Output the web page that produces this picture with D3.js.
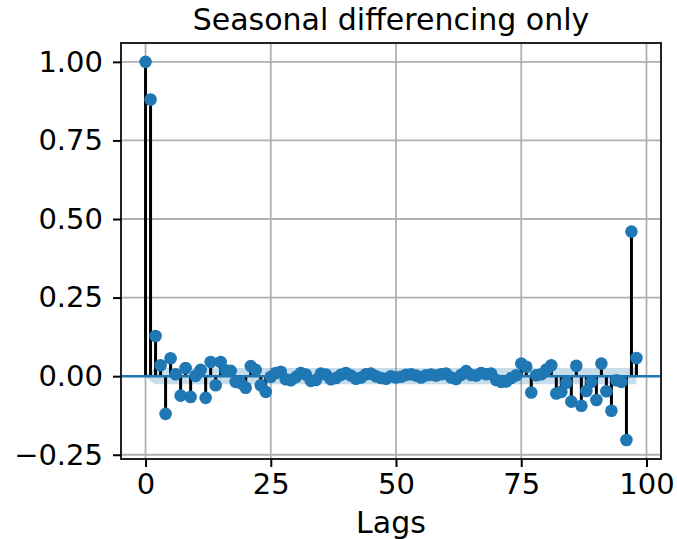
<!DOCTYPE html>
<html>
<head>
<meta charset="utf-8">
<script src="https://cdn.jsdelivr.net/npm/d3@7"></script>
<style>
  body { margin: 0; background: #fff; }
  text { font-family: "DejaVu Sans", sans-serif; fill: #000; }
</style>
</head>
<body>
<div class="chart"></div>
<script>
// autocorrelation values, lag 0 .. 98
var acf = [
  1.000, 0.880, 0.128, 0.035, -0.120, 0.057, 0.006, -0.062, 0.026, -0.066,
  0.001, 0.020, -0.069, 0.045, -0.029, 0.045, 0.019, 0.017, -0.018, -0.022,
  -0.037, 0.032, 0.020, -0.029, -0.050, -0.002, 0.010, 0.014, -0.010, -0.013,
  -0.003, 0.010, 0.005, -0.015, -0.012, 0.008, 0.005, -0.010, -0.006, 0.004,
  0.010, 0.002, -0.008, -0.004, 0.006, 0.008, 0.000, -0.006, -0.008, 0.000,
  -0.004, -0.002, 0.004, 0.006, 0.002, -0.004, 0.003, 0.005, 0.002, 0.006,
  0.008, -0.004, -0.009, 0.004, 0.016, 0.004, 0.002, 0.010, 0.006, 0.008,
  -0.012, -0.018, -0.017, -0.006, 0.003, 0.040, 0.030, -0.052, 0.003, 0.006,
  0.021, 0.035, -0.055, -0.050, -0.021, -0.081, 0.033, -0.094, -0.047, -0.018,
  -0.076, 0.040, -0.048, -0.110, -0.013, -0.018, -0.203, 0.460, 0.058
];
// confidence band half width at a few lags
var bandLags = [0, 1, 2, 98];
var bandHalf = [0, 0.017, 0.026, 0.026];

var xTicks = [0, 25, 50, 75, 100];
var yTicks = [-0.25, 0, 0.25, 0.5, 0.75, 1.0];

var lags = d3.range(acf.length);

var W = 677, H = 539;
var pLeft = 121, pRight = 661, pTop = 43, pBottom = 459;

var svg = d3.select(".chart")
    .append("svg")
    .attr("width", W)
    .attr("height", H)

var x = d3.scaleLinear().domain([-4.9, 102.9]).range([pLeft, pRight]);
var y = d3.scaleLinear().domain([-0.2635, 1.06]).range([pBottom, pTop]);

// grid
svg.append("g")
    .selectAll("line")
    .data(xTicks)
    .enter()
    .append("line")
    .attr("x1", d => x(d)).attr("x2", d => x(d))
    .attr("y1", pTop).attr("y2", pBottom)
    .attr("stroke", "#b0b0b0")
    .attr("stroke-width", 1.8)

svg.append("g")
    .selectAll("line")
    .data(yTicks)
    .enter()
    .append("line")
    .attr("y1", d => y(d)).attr("y2", d => y(d))
    .attr("x1", pLeft).attr("x2", pRight)
    .attr("stroke", "#b0b0b0")
    .attr("stroke-width", 1.8)

// confidence band
var band = bandLags.map(function (l, i) { return [l, bandHalf[i]]; });
svg.append("path")
    .datum(band)
    .attr("d", d3.area()
        .x(d => x(d[0]))
        .y0(d => y(-d[1]))
        .y1(d => y(d[1])))
    .attr("fill", "#1f77b4")
    .attr("fill-opacity", 0.25)

// stems
svg.append("g")
    .selectAll("line")
    .data(lags)
    .enter()
    .append("line")
    .attr("x1", d => x(d)).attr("x2", d => x(d))
    .attr("y1", y(0)).attr("y2", d => y(acf[d]))
    .attr("stroke", "#000")
    .attr("stroke-width", 3)

// zero line
svg.append("line")
    .attr("x1", pLeft).attr("x2", pRight)
    .attr("y1", y(0)).attr("y2", y(0))
    .attr("stroke", "#1f77b4")
    .attr("stroke-width", 2.5)

// markers
svg.append("g")
    .selectAll("circle")
    .data(lags)
    .enter()
    .append("circle")
    .attr("cx", d => x(d))
    .attr("cy", d => y(acf[d]))
    .attr("r", 6.3)
    .attr("fill", "#1f77b4")

// frame
svg.append("rect")
    .attr("x", pLeft).attr("y", pTop)
    .attr("width", pRight - pLeft).attr("height", pBottom - pTop)
    .attr("fill", "none")
    .attr("stroke", "#222")
    .attr("stroke-width", 2)

// axes
var fmtY = function (d) { return d3.format(".2f")(d).replace("-", "\u2212"); };

var xAxis = svg.append("g")
    .attr("transform", "translate(0," + pBottom + ")")
    .call(d3.axisBottom(x).tickValues(xTicks).tickSize(8).tickPadding(6).tickFormat(d3.format("d")))
xAxis.select(".domain").remove()
xAxis.selectAll("line").attr("stroke", "#000").attr("stroke-width", 2)
xAxis.selectAll("text").style("font-size", "29px").attr("font-family", "DejaVu Sans")

var yAxis = svg.append("g")
    .attr("transform", "translate(" + pLeft + ",0)")
    .call(d3.axisLeft(y).tickValues(yTicks).tickSize(8).tickPadding(10).tickFormat(fmtY))
yAxis.select(".domain").remove()
yAxis.selectAll("line").attr("stroke", "#000").attr("stroke-width", 2)
yAxis.selectAll("text").style("font-size", "29px").attr("font-family", "DejaVu Sans")

svg.append("text")
    .attr("x", (pLeft + pRight) / 2)
    .attr("y", 29.5)
    .attr("text-anchor", "middle")
    .style("font-size", "30px")
    .text("Seasonal differencing only")

svg.append("text")
    .attr("x", (pLeft + pRight) / 2)
    .attr("y", 533)
    .attr("text-anchor", "middle")
    .style("font-size", "30px")
    .text("Lags")
</script>
</body>
</html>
